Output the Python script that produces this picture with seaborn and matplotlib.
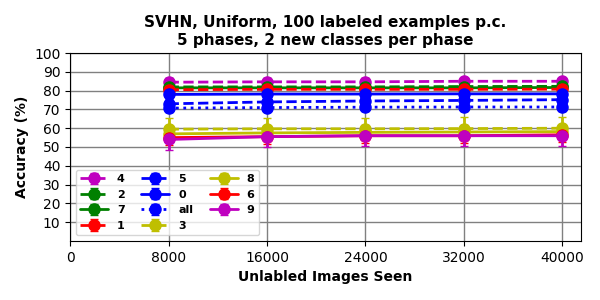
#!/usr/bin/env python
"""
Per-class accuracy vs. unlabeled images seen (SVHN, uniform, 5 phases).
"""

import matplotlib
matplotlib.use('Agg')
import matplotlib.pyplot as plt
import seaborn as sns
import pandas as pd

steps = [8000, 16000, 24000, 32000, 40000]

# legend order as in the original figure
classes = ['4', '2', '7', '1', '5', '0', 'all', '3', '8', '6', '9']

acc = {
    '4':   [84.5, 84.7, 84.7, 85.0, 85.0],
    '2':   [82.0, 82.0, 82.0, 82.2, 82.3],
    '7':   [81.5, 81.5, 81.5, 81.5, 81.7],
    '1':   [80.5, 80.7, 80.7, 80.7, 80.8],
    '5':   [73.0, 74.0, 74.5, 74.8, 75.2],
    '0':   [78.0, 78.2, 78.2, 78.3, 78.3],
    'all': [70.7, 71.0, 71.2, 71.3, 71.3],
    '3':   [59.5, 59.7, 59.7, 59.8, 60.0],
    '8':   [57.0, 57.5, 57.8, 58.0, 58.2],
    '6':   [55.0, 55.5, 56.0, 56.0, 56.5],
    '9':   [54.0, 55.5, 56.0, 56.0, 56.0],
}
err = {
    '4':   [2.0, 2.0, 2.0, 2.0, 2.0],
    '2':   [3.0, 3.0, 3.0, 3.0, 3.0],
    '7':   [5.0, 5.0, 5.0, 5.0, 5.0],
    '1':   [2.0, 2.0, 2.0, 2.0, 2.0],
    '5':   [2.5, 2.5, 2.5, 2.5, 2.5],
    '0':   [3.0, 3.0, 3.0, 3.0, 3.0],
    'all': [2.0, 2.0, 2.0, 2.0, 2.0],
    '3':   [6.0, 6.0, 6.0, 6.0, 6.0],
    '8':   [3.0, 3.0, 3.0, 3.0, 3.0],
    '6':   [4.0, 4.0, 4.0, 4.0, 4.0],
    '9':   [5.5, 5.5, 5.5, 5.5, 5.5],
}

colors = {'4': 'm', '9': 'm', '2': 'g', '7': 'g', '1': 'r', '6': 'r',
          '5': 'b', '0': 'b', 'all': 'b', '3': 'y', '8': 'y'}
styles = {'4': '--', '2': '--', '1': '--', '5': '--', '3': '--', 'all': ':',
          '7': '-', '6': '-', '0': '-', '8': '-', '9': '-'}

rows = []
for c in classes:
    for s, a, e in zip(steps, acc[c], err[c]):
        rows.append({'cls': c, 'step': s, 'acc': a, 'err': e})
df = pd.DataFrame(rows)

sns.set_style('white')
plt.rcParams.update({'text.color': 'black', 'axes.labelcolor': 'black',
                     'xtick.color': 'black', 'ytick.color': 'black'})
fig, ax = plt.subplots(figsize=(6, 3), dpi=100)
fig.subplots_adjust(left=0.117, right=0.968, top=0.823, bottom=0.197)

for c in classes:
    d = df[df['cls'] == c]
    ax.errorbar(d['step'], d['acc'], yerr=d['err'], color=colors[c],
                linestyle=styles[c], linewidth=2, marker='o', markersize=8,
                capsize=3, label=c)

ax.set_xlim(0, 41500)
ax.set_ylim(0, 100)
ax.set_xticks([0, 8000, 16000, 24000, 32000, 40000])
ax.set_yticks(range(10, 101, 10))
ax.grid(True, color='gray', linewidth=1)
ax.set_axisbelow(True)
for sp in ax.spines.values():
    sp.set_color('black')
ax.tick_params(left=True, bottom=True, labelsize=10)

ax.set_xlabel('Unlabled Images Seen', fontweight='bold')
ax.set_ylabel('Accuracy (%)', fontweight='bold')
ax.set_title('SVHN, Uniform, 100 labeled examples p.c.\n5 phases, 2 new classes per phase',
             fontweight='bold', fontsize=11)
ax.legend(loc='lower left', ncol=3, prop={'weight': 'bold', 'size': 8},
          handlelength=2.5, columnspacing=1.5, framealpha=0.8)

plt.savefig('out.png', dpi=100)
plt.close()
